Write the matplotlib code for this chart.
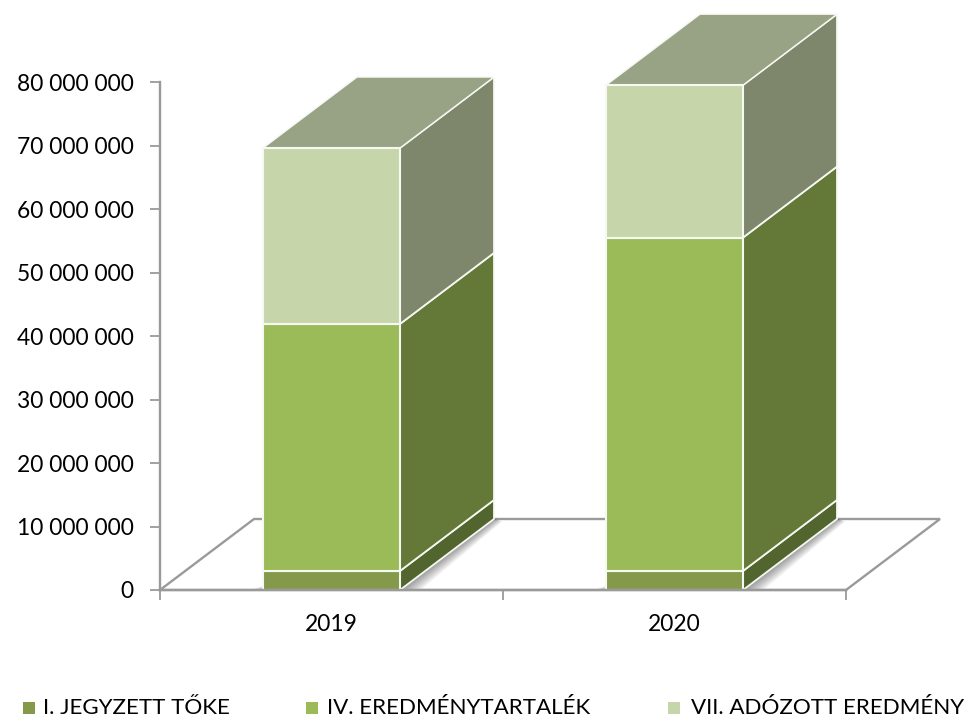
import matplotlib
matplotlib.use("Agg")
import matplotlib.pyplot as plt
from matplotlib.patches import Polygon, Rectangle

plt.rcParams['font.family'] = ['Lato', 'DejaVu Sans']

years = ['2019', '2020']
series_names = ['I. JEGYZETT TŐKE', 'IV. EREDMÉNYTARTALÉK', 'VII. ADÓZOTT EREDMÉNY']
jegyzett = [3.0e6, 3.0e6]
eredmenytartalek = [38.9e6, 52.5e6]
adozott = [27.7e6, 24.0e6]
yticks = [0, 1e7, 2e7, 3e7, 4e7, 5e7, 6e7, 7e7, 8e7]
ylabels = ['0', '10 000 000', '20 000 000', '30 000 000', '40 000 000',
           '50 000 000', '60 000 000', '70 000 000', '80 000 000']

front = ['#85994B', '#9BBB59', '#C7D5AB']
side = ['#53652F', '#647838', '#7E866B']
top_color = '#98A385'
edge = '#F6F8F2'
grey = '#9A9A9A'

W, H = 965, 719
fig = plt.figure(figsize=(W / 100, H / 100), dpi=100, facecolor='white')
ax = fig.add_axes([160 / W, 1 - 590 / H, 686 / W, 508 / H])
ax.set_xlim(0, 2)
ax.set_ylim(0, 8e7)
ax.patch.set_alpha(0)

DX = 94 / 343
DY = 71 / 508 * 8e7
BW = 137 / 343

for s in ('top', 'right'):
    ax.spines[s].set_visible(False)
for s in ('left', 'bottom'):
    ax.spines[s].set_color(grey)
    ax.spines[s].set_linewidth(1.7)
ax.set_yticks(yticks, ylabels)
ax.set_xticks([0, 1, 2], ['', '', ''])
ax.tick_params(axis='both', color=grey, width=1.3, length=7)
ax.tick_params(axis='y', labelsize=16.4, pad=12, labelcolor='black')
for i, y in enumerate(years):
    ax.text(i + 0.5, -5.4e6, y, ha='center', va='center', fontsize=16.4, color='black')

# floor
ax.plot([0, DX, 2 + DX, 2], [0, DY, DY, 0], color=grey, lw=1.7,
        clip_on=False, solid_joinstyle='miter', zorder=1)

for i in range(2):
    x0 = i + 0.5 - BW / 2
    x1 = x0 + BW
    # soft shadow beside the column
    for k in range(8):
        off = 0.003 * (k + 1)
        ax.add_patch(Polygon([(x1, 0), (x1 + DX, DY), (x1 + DX + off, DY - off * 1.6e7),
                              (x1 + off * 2.5, 0)], closed=True, fc='black', ec='none',
                             alpha=0.055, zorder=2, clip_on=False))
        ax.add_patch(Polygon([(x0, 0), (x0 - off * 1.5, 0), (x0, off * 2.8e7)], closed=True,
                             fc='black', ec='none', alpha=0.05, zorder=2, clip_on=False))
    base = 0
    for j, vals in enumerate([jegyzett, eredmenytartalek, adozott]):
        tp = base + vals[i]
        ax.add_patch(Polygon([(x1, base), (x1 + DX, base + DY), (x1 + DX, tp + DY), (x1, tp)],
                             closed=True, fc=side[j], ec=edge, lw=1.3, zorder=3, clip_on=False))
        ax.add_patch(Rectangle((x0, base), BW, vals[i], fc=front[j], ec=edge, lw=1.5,
                               zorder=4, clip_on=False))
        base = tp
    ax.add_patch(Polygon([(x0, base), (x1, base), (x1 + DX, base + DY), (x0 + DX, base + DY)],
                         closed=True, fc=top_color, ec=edge, lw=1.0, zorder=3, clip_on=False))

# re-draw the baseline over the shadows and the column feet
ax.plot([0, 2], [0, 0], color=grey, lw=1.7, clip_on=False, zorder=5)

# legend
legend_positions = [(23, 43), (306, 327), (668, 691)]
for (m, t), name, c in zip(legend_positions, series_names, front):
    fig.add_artist(Rectangle((m / W, 1 - 714 / H), 12 / W, 12 / H, transform=fig.transFigure,
                             fc=c, ec='none'))
    fig.text(t / W, 1 - 708 / H, name, ha='left', va='center', fontsize=16.1, color='black')

fig.savefig('out.png', dpi=100, facecolor='white')
